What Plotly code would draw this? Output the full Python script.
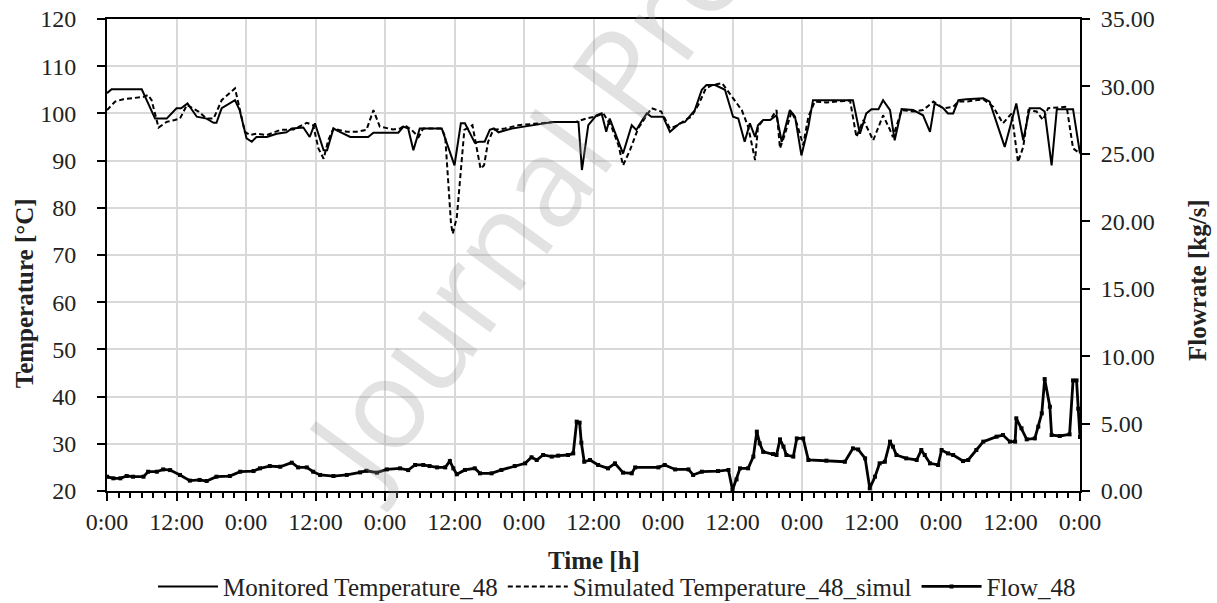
import plotly.graph_objects as go

# ---------------- data ----------------
mon_h = [0, 0.8, 6.0, 8.3, 10.3, 12.0, 12.8, 13.9, 15.5, 17.2, 18.4, 18.9, 19.8, 22.1, 22.9,
         24.1, 25.0, 25.8, 27.6, 29.3, 31.0, 31.9, 33.9, 35.0, 35.9, 37.4, 38.0, 39.1, 40.2,
         42.0, 45.1, 46.0, 50.3, 51.2, 52.0, 52.9, 54.0, 57.8, 60.0, 61.1, 61.8, 63.5, 64.3,
         65.2, 66.1, 66.8, 67.6, 69.9, 72.0, 75.3, 77.0, 81.4, 82.0, 83.1, 84.5, 85.4, 86.2,
         86.8, 89.1, 90.6, 91.4, 92.6, 93.2, 94.0, 96.0, 97.2, 98.9, 99.8, 101.5, 102.7, 103.5,
         105.0, 106.7, 108.1, 109.0, 110.1, 111.0, 111.9, 112.4, 113.3, 114.5, 115.6, 116.5,
         117.9, 118.8, 119.9, 121.1, 121.9, 128.8, 130.0, 131.1, 132.0, 133.2, 134.0, 135.2,
         136.0, 137.2, 139.2, 140.9, 142.1, 142.9, 144.4, 145.2, 146.1, 147.0, 148.4, 151.3,
         152.4, 155.0, 157.0, 158.2, 159.3, 161.1, 161.9, 163.1, 164.0, 166.8, 168.0]
mon_t = [104.3, 105.1, 105.1, 98.9, 98.9, 101.1, 101.1, 102.1, 99.3, 98.9, 98.0, 98.0, 101.1, 102.8, 100.7,
         94.7, 94.0, 95.0, 95.0, 95.7, 96.0, 96.8, 97.0, 95.0, 97.9, 92.2, 92.2, 96.8, 96.1,
         95.0, 95.0, 95.9, 95.9, 97.2, 96.8, 92.2, 96.8, 96.8, 89.0, 97.9, 97.9, 93.8, 94.0,
         94.0, 96.5, 96.8, 96.0, 96.8, 97.2, 97.9, 98.2, 98.2, 88.0, 97.5, 99.6, 100.0, 96.1,
         98.9, 91.5, 97.5, 96.5, 98.9, 100.0, 99.3, 99.3, 96.1, 97.9, 98.2, 100.7, 105.0, 106.0,
         106.0, 105.0, 99.3, 98.9, 94.0, 97.9, 95.0, 97.5, 98.6, 98.6, 99.6, 94.0,
         100.7, 99.3, 91.1, 97.2, 102.8, 102.8, 95.7, 100.0, 100.9, 100.9, 102.8, 100.7,
         94.3, 100.9, 100.7, 99.6, 96.1, 102.1, 101.1, 100.0, 100.0, 102.8, 103.0, 103.2,
         102.5, 92.9, 102.1, 94.3, 101.1, 101.1, 100.4, 89.0, 100.9, 100.9, 91.5]

sim_h = [0, 1.4, 2.8, 6.3, 7.1, 7.7, 8.9, 10.3, 11.7, 12.6, 13.8, 15.8, 17.2, 18.4, 19.8, 21.2,
         22.1, 22.7, 23.8, 24.7, 25.8, 27.6, 29.9, 32.2, 34.5, 35.6, 36.5, 37.4, 38.2, 39.1,
         41.4, 43.1, 44.8, 46.0, 47.1, 49.4, 50.6, 51.4, 52.6, 53.8, 54.6, 57.8, 58.4, 59.4,
         59.7, 60.4, 61.7, 63.1, 64.5, 65.1, 65.8, 66.7, 68.7, 71.0, 75.3, 77.4, 81.0, 82.7,
         84.3, 85.7, 87.1, 88.3, 89.1, 90.3, 91.7, 92.9, 94.0, 95.7, 97.2, 98.6, 99.8, 100.9,
         102.1, 103.4, 104.5, 106.2, 107.9, 109.6, 110.7, 111.9, 112.4, 113.3, 114.5, 115.6,
         116.2, 117.0, 118.2, 119.1, 120.2, 121.1, 122.2, 124.2, 126.0, 128.3, 129.4, 130.6,
         132.3, 134.0, 135.2, 135.7, 137.2, 139.2, 140.9, 142.7, 144.4, 146.1, 147.0, 148.4,
         151.3, 153.0, 154.7, 156.2, 157.3, 158.2, 159.1, 160.5, 161.6, 162.5, 165.7, 166.8, 168.0]
sim_t = [100.7, 102.5, 103.0, 103.5, 103.9, 102.8, 97.0, 98.2, 98.6, 98.9, 101.8, 100.4, 98.9, 98.9, 102.8, 104.3,
         105.3, 102.1, 96.1, 95.4, 95.7, 95.4, 96.5, 96.6, 98.0, 97.5, 92.6, 90.4, 94.3, 96.8,
         96.1, 96.1, 96.5, 100.7, 97.2, 96.6, 96.8, 97.5, 96.5, 95.0, 96.8, 96.8, 95.0, 76.6,
         74.5, 78.0, 96.5, 97.5, 88.3, 89.0, 94.0, 96.5, 96.8, 97.5, 97.9, 98.2, 98.2, 98.9,
         99.3, 100.0, 97.2, 93.3, 89.0, 92.2, 96.8, 98.9, 101.1, 100.4, 96.8, 97.5, 98.6, 99.3,
         101.8, 105.3, 106.0, 106.4, 103.5, 100.7, 97.2, 90.1, 97.2, 98.6, 98.6, 100.7,
         92.6, 95.4, 100.4, 97.9, 93.3, 99.3, 102.5, 102.3, 102.5, 102.7, 95.0, 98.6,
         94.3, 99.6, 96.5, 95.0, 100.7, 100.4, 100.7, 102.5, 101.1, 101.4, 102.5, 102.5,
         103.0, 101.4, 97.9, 100.0, 89.7, 92.9, 100.7, 100.4, 98.6, 101.1, 101.4, 92.6, 91.5]

flow_h = [0, 1.1, 2.3, 3.4, 4.5, 6.3, 7.1, 8.6, 9.7, 10.9, 12.6, 14.3, 16.0, 17.2, 18.9, 21.2,
          23.0, 25.3, 26.4, 28.1, 29.9, 31.9, 33.0, 34.5, 35.6, 36.8, 39.1, 41.4, 43.7, 44.8,
          46.6, 48.3, 50.6, 52.0, 53.2, 54.6, 55.7, 57.0, 58.4, 59.2, 59.8, 60.4, 61.8, 63.5,
          64.4, 66.4, 68.1, 70.4, 72.2, 73.3, 74.2, 75.3, 76.8, 77.9, 79.6, 80.5, 81.1, 81.6,
          81.9, 82.4, 83.4, 84.8, 86.5, 87.7, 89.1, 90.6, 91.2, 95.2, 96.3, 98.1, 100.4, 101.2,
          102.7, 105.5, 107.3, 108.0, 108.7, 109.3, 110.7, 111.6, 112.2, 112.7, 113.3, 115.0,
          115.6, 116.2, 116.8, 117.3, 118.5, 119.1, 120.2, 121.1, 124.2, 127.4, 128.8, 129.7,
          130.9, 131.7, 132.6, 133.4, 134.3, 135.2, 135.7, 136.3, 138.0, 139.8, 140.6, 141.2,
          142.1, 143.5, 144.1, 145.2, 146.1, 147.8, 148.7, 150.1, 151.3, 153.6, 154.7, 155.9,
          156.8, 157.0, 157.9, 158.8, 160.2, 160.8, 161.4, 161.9, 162.8, 163.1, 164.5, 166.2,
          166.8, 167.4, 167.7, 168.0]
flow_v = [1.06, 0.94, 0.94, 1.11, 1.06, 1.06, 1.43, 1.43, 1.60, 1.55, 1.19, 0.77, 0.82, 0.74, 1.06, 1.11,
          1.43, 1.48, 1.68, 1.85, 1.80, 2.10, 1.75, 1.75, 1.43, 1.19, 1.11, 1.19, 1.38, 1.50,
          1.36, 1.60, 1.68, 1.55, 1.93, 1.93, 1.85, 1.75, 1.75, 2.22, 1.68, 1.24, 1.56, 1.68,
          1.31, 1.31, 1.56, 1.85, 2.05, 2.50, 2.30, 2.67, 2.55, 2.62, 2.67, 2.79, 5.14, 5.07,
          3.58, 2.17, 2.30, 1.93, 1.68, 2.05, 1.36, 1.31, 1.75, 1.75, 1.93, 1.60, 1.60, 1.19,
          1.43, 1.48, 1.56, 0.07, 0.86, 1.68, 1.68, 2.55, 4.40, 3.53, 2.90, 2.74,
          2.67, 3.83, 3.29, 2.67, 2.55, 3.90, 3.90, 2.30, 2.25, 2.17, 3.16, 3.08,
          2.42, 0.20, 1.06, 2.05, 2.17, 3.66, 3.29, 2.67, 2.42, 2.30, 3.04, 2.67,
          2.05, 1.93, 3.04, 2.79, 2.67, 2.22, 2.30, 3.04, 3.66, 4.03, 4.15, 3.66,
          3.66, 5.39, 4.65, 3.83, 3.90, 4.77, 5.76, 8.30, 6.25, 4.15, 4.08, 4.20,
          8.20, 8.20, 6.10, 4.00]

x_tickvals = list(range(0, 169, 12))
x_ticktext = ["0:00" if (v // 12) % 2 == 0 else "12:00" for v in x_tickvals]
temp_ticks = list(range(20, 121, 10))
flow_ticks = [0, 5, 10, 15, 20, 25, 30, 35]

FONT = "Liberation Serif, Times New Roman, serif"
TXT = "#222222"

fig = go.Figure()
fig.add_trace(go.Scatter(x=mon_h, y=mon_t, mode="lines", name="Monitored Temperature_48",
                         line=dict(color="black", width=2)))
fig.add_trace(go.Scatter(x=sim_h, y=sim_t, mode="lines", name="Simulated Temperature_48_simul",
                         line=dict(color="black", width=2, dash="5px,3px")))
fig.add_trace(go.Scatter(x=flow_h, y=flow_v, mode="lines+markers", name="Flow_48", yaxis="y2",
                         line=dict(color="black", width=2.8),
                         marker=dict(symbol="square", size=4, color="black")))

axis_common = dict(showline=True, linecolor="black", linewidth=2,
                   ticks="outside", ticklen=8, tickwidth=1.5, tickcolor="black",
                   zeroline=False, automargin=False,
                   tickfont=dict(family=FONT, size=24, color=TXT))

fig.update_layout(
    width=1217, height=603,
    margin=dict(l=107, r=137, t=19, b=112, autoexpand=False),
    paper_bgcolor="white", plot_bgcolor="white",
    font=dict(family=FONT, size=24, color=TXT),
    showlegend=True,
    legend=dict(orientation="h", xref="container", yref="container",
                x=0.507, xanchor="center", y=0.027, yanchor="middle",
                font=dict(family=FONT, size=25, color=TXT), itemwidth=60,
                bgcolor="rgba(0,0,0,0)"),
    xaxis=dict(range=[0, 168], tickmode="array", tickvals=x_tickvals, ticktext=x_ticktext,
               showgrid=True, gridcolor="#d9d9d9", gridwidth=1.5, mirror=True,
               minor=dict(dtick=2, tick0=0, ticks="outside", ticklen=5, tickwidth=1.5,
                          tickcolor="black", showgrid=False),
               ticklabelstandoff=0, **axis_common),
    yaxis=dict(range=[20, 120], tickvals=temp_ticks,
               showgrid=True, gridcolor="#d9d9d9", gridwidth=1.5,
               ticklabelstandoff=16, **axis_common),
    yaxis2=dict(range=[0, 35], tickvals=flow_ticks, tickformat=".2f",
                overlaying="y", side="right", showgrid=False,
                ticklabelstandoff=6, **axis_common),
    annotations=[
        dict(text="Journal Pre-proof", xref="paper", yref="paper", x=0.536, y=0.915,
             xanchor="center", yanchor="middle", textangle=-54, showarrow=False,
             font=dict(family="Open Sans, sans-serif", size=125, color="rgba(150,150,150,0.28)")),
        dict(text="<b>Temperature [°C]</b>", xref="paper", yref="paper", x=-0.0853, y=0.419,
             xanchor="center", yanchor="middle",
             textangle=-90, showarrow=False, font=dict(family=FONT, size=25, color=TXT)),
        dict(text="<b>Flowrate [kg/s]</b>", xref="paper", yref="paper", x=1.1203, y=0.447,
             xanchor="center", yanchor="middle",
             textangle=-90, showarrow=False, font=dict(family=FONT, size=25, color=TXT)),
        dict(text="<b>Time [h]</b>", xref="paper", yref="paper", x=0.5, y=-0.148,
             xanchor="center", yanchor="middle",
             showarrow=False, font=dict(family=FONT, size=25, color=TXT)),
    ],
)

fig.write_html("out.html", config={"displayModeBar": False},
               post_script="document.body.style.margin='0';document.body.style.overflow='hidden';")
